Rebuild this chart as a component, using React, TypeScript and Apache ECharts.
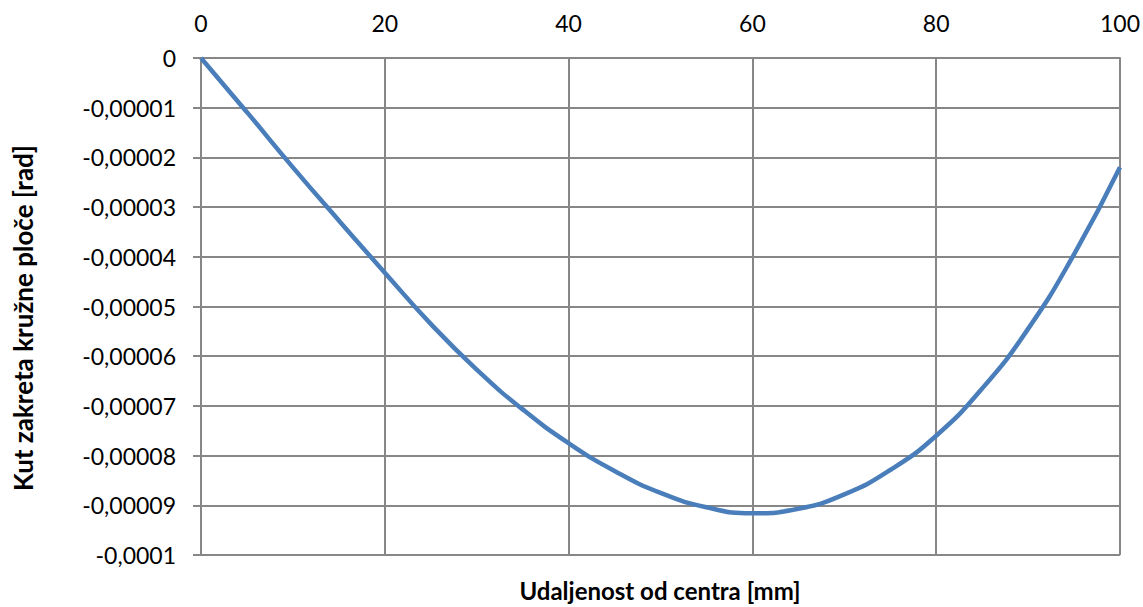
import React, { useEffect, useRef } from "react";
import * as echarts from "echarts";

const distanceMm = [0, 5, 10, 15, 20, 25, 30, 35, 40, 45, 50, 55, 60, 65, 70, 75, 80, 85, 90, 95, 100];
const rotationRad = [
  0, -0.0000109, -0.000022, -0.0000327, -0.0000432, -0.0000535, -0.0000627, -0.0000707,
  -0.0000775, -0.0000831, -0.0000875, -0.0000904, -0.0000916, -0.0000907, -0.0000878,
  -0.0000829, -0.000076, -0.0000665, -0.0000545, -0.0000395, -0.000022,
];
const xTitle = "Udaljenost od centra [mm]";
const yTitle = "Kut zakreta kružne ploče [rad]";

const FONT = "Lato, 'Open Sans', sans-serif";
const GRID = "#878787";

export default function App() {
  const ref = useRef<HTMLDivElement>(null);
  useEffect(() => {
    if (!ref.current) return;
    const chart = echarts.init(ref.current, null, { renderer: "svg" });
    const data = distanceMm.map((x, i) => [x, rotationRad[i]]);
    chart.setOption({
      animation: false,
      backgroundColor: "#ffffff",
      grid: { left: 201, right: 23, top: 58, bottom: 52, containLabel: false },
      xAxis: {
        type: "value",
        position: "top",
        min: 0,
        max: 100,
        interval: 20,
        axisLine: { show: true, lineStyle: { color: GRID, width: 2 } },
        axisTick: { show: false },
        splitLine: { show: true, lineStyle: { color: GRID, width: 2 } },
        axisLabel: { color: "#000", fontFamily: FONT, fontSize: 23, margin: 24 },
      },
      yAxis: {
        type: "value",
        min: -0.0001,
        max: 0,
        interval: 0.00001,
        axisLine: { show: true, lineStyle: { color: GRID, width: 2 } },
        axisTick: { show: true, length: 8, lineStyle: { color: GRID, width: 2 } },
        splitLine: { show: true, lineStyle: { color: GRID, width: 2 } },
        axisLabel: {
          color: "#000",
          fontFamily: FONT,
          fontSize: 23,
          margin: 25,
          formatter: (v: number) => {
            const r = Math.round(v * 1e6) / 1e6;
            if (r === 0) return "0";
            return String(r).replace(".", ",");
          },
        },
      },
      graphic: [
        {
          type: "text",
          x: 660,
          y: 590,
          style: {
            text: xTitle,
            fontFamily: FONT,
            fontSize: 24,
            fontWeight: "bold",
            fill: "#000",
            align: "center",
            verticalAlign: "middle",
          },
        },
        {
          type: "text",
          x: 23,
          y: 318,
          rotation: Math.PI / 2,
          style: {
            text: yTitle,
            fontFamily: FONT,
            fontSize: 26,
            fontWeight: "bold",
            fill: "#000",
            align: "center",
            verticalAlign: "middle",
          },
        },
      ],
      series: [
        {
          type: "line",
          data,
          smooth: 0.5,
          symbol: "none",
          lineStyle: { color: "#4A7EBB", width: 4.5 },
        },
      ],
    });
    return () => chart.dispose();
  }, []);
  return (
    <div
      ref={ref}
      style={{ position: "fixed", left: 0, top: 0, width: 1143, height: 607, background: "#fff" }}
    />
  );
}
